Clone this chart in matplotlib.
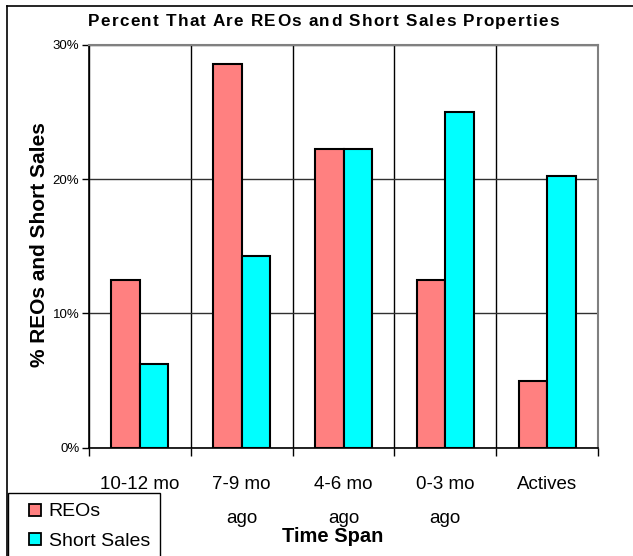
import matplotlib
matplotlib.use("Agg")
import matplotlib.pyplot as plt
import numpy as np
from matplotlib.lines import Line2D

cat_labels = ["10-12 mo", "7-9 mo\nago", "4-6 mo\nago", "0-3 mo\nago", "Actives"]
series_names = ["REOs", "Short Sales"]
reos = [12.5, 28.6, 22.2, 12.5, 5.0]
short_sales = [6.25, 14.3, 22.2, 25.0, 20.2]
yticks = [0, 10, 20, 30]
ytick_labels = ["0%", "10%", "20%", "30%"]
title = "Percent That Are REOs and Short Sales Properties"

plt.rcParams['font.family'] = ['Liberation Sans', 'DejaVu Sans']

W, H = 633, 556
fig = plt.figure(figsize=(W/100, H/100), dpi=100)
ax = fig.add_axes([89/W, 1-447.7/H, (598-89)/W, (447.7-44.7)/H])

colors = ['#FF8080', '#00FFFF']
x = np.arange(len(cat_labels))
bw = 0.28
ax.bar(x - bw/2, reos, bw, color=colors[0], edgecolor='black', linewidth=1.5, zorder=3)
ax.bar(x + bw/2, short_sales, bw, color=colors[1], edgecolor='black', linewidth=1.5, zorder=3)

ax.set_xlim(-0.5, len(cat_labels) - 0.5)
ax.set_ylim(0, 30)
ax.set_yticks(yticks)
ax.set_yticklabels(ytick_labels, fontsize=9.5)
ax.yaxis.grid(True, color='#303030', linewidth=1, zorder=1)
ax.set_xticks(np.arange(len(cat_labels)+1) - 0.5)
ax.set_xticklabels([])
ax.xaxis.grid(True, color='black', linewidth=1, zorder=1)
ax.tick_params(axis='x', direction='out', length=6, width=1, color='black')
ax.tick_params(axis='y', direction='out', length=5, width=1, color='black', pad=2)
for i, lab in enumerate(cat_labels):
    ax.text(i, -2.1, lab, ha='center', va='top', fontsize=13.5, linespacing=2.35,
            transform=ax.transData)

for s in ['top', 'right']:
    ax.spines[s].set_color('#808080')
    ax.spines[s].set_linewidth(1.5)
for s in ['left', 'bottom']:
    ax.spines[s].set_color('black')
    ax.spines[s].set_linewidth(1.2)

# letter-spaced bold title
renderer = fig.canvas.get_renderer()
tfs = 12.3
def _w(s):
    t = fig.text(0, 0, s, fontsize=tfs, fontweight='bold')
    w = t.get_window_extent(renderer).width
    t.remove()
    return w
wX = _w("X")
offs = [(_w(title[:i] + "X") - wX) if i > 0 else 0.0 for i in range(len(title))]
natural = _w(title)
x0, x1 = 88, 559
spacing = ((x1 - x0) - natural) / (len(title) - 1)
for i, ch in enumerate(title):
    if ch == " ":
        continue
    px = x0 + offs[i] + i * spacing
    fig.text(px / W, 1 - 26 / H, ch, ha='left', va='baseline', fontsize=tfs, fontweight='bold')

fig.text(40/W, 1-245/H, "% REOs and Short Sales", rotation=90, ha='center', va='center',
         fontsize=15, fontweight='bold')
fig.text(333/W, 1-537/H, "Time Span", ha='center', va='center', fontsize=14.5, fontweight='bold')

# figure frame (left and top)
fig.add_artist(Line2D([7/W, 7/W], [0, 1-6/H], color='black', linewidth=1.2, transform=fig.transFigure))
fig.add_artist(Line2D([7/W, 1], [1-6/H, 1-6/H], color='black', linewidth=1.2, transform=fig.transFigure))

handles = [Line2D([], [], marker='s', linestyle='none', markersize=8.5,
                  markerfacecolor=c, markeredgecolor='black', markeredgewidth=1.3)
           for c in colors]
leg = fig.legend(handles, series_names, loc='upper left', bbox_to_anchor=(8/W, 1-493/H), fontsize=14,
                 frameon=True, fancybox=False, edgecolor='black', framealpha=1,
                 handlelength=1.75, handletextpad=-0.15,
                 borderpad=0.5, labelspacing=0.6, borderaxespad=0)
leg.get_frame().set_linewidth(1.0)

fig.savefig("out.png", dpi=100)
